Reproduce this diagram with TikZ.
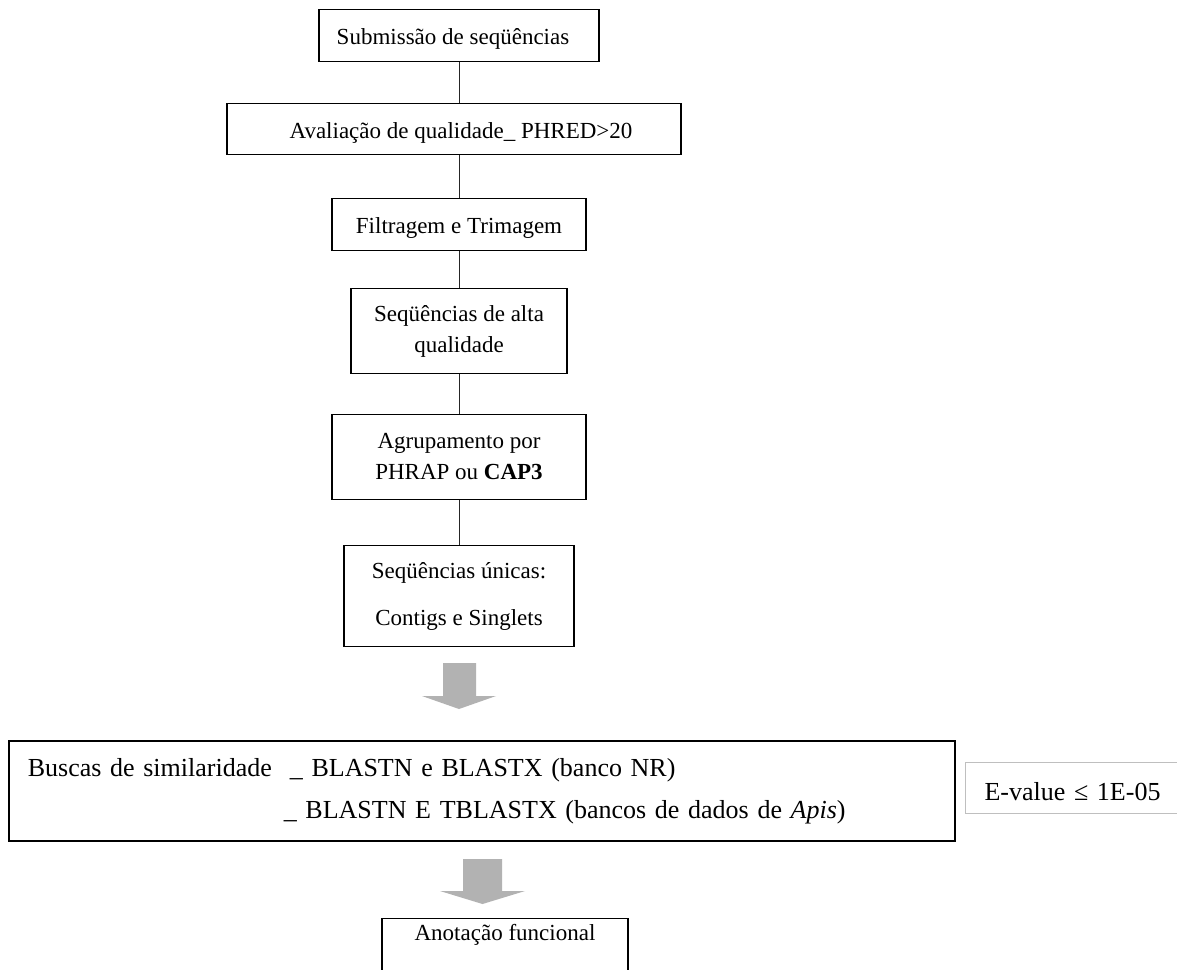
\documentclass[tikz,border=0pt]{standalone}
\usepackage{fontspec}
\setmainfont{Liberation Serif}
\begin{document}
\begin{tikzpicture}[x=1pt,y=-1pt,
  box/.style={draw, line width=1.3pt, inner xsep=0pt, inner ysep=0pt, align=center,
              font=\fontsize{23}{31}\selectfont},
  conn/.style={line width=1pt, draw=black!85},
  bigarrow/.style={fill=black!30, draw=none}]
\useasboundingbox (0,0) rectangle (1177,969);
\clip (0,0) rectangle (1177,969);
\fill[white] (0,0) rectangle (1177,969);

% flowchart boxes
\node[box, anchor=north, minimum width=280pt, text height=35pt, text depth=17pt] (b1) at (459,9)
  {Submissão de seqüências\hspace*{12pt}};
\node[box, anchor=north, minimum width=454pt, text height=35pt, text depth=16pt] (b2) at (454,103)
  {\hspace*{14pt}Avaliação de qualidade\_ PHRED>20};
\node[box, anchor=north, minimum width=254pt, text height=35pt, text depth=17pt] (b3) at (459,198)
  {Filtragem e Trimagem};
\node[box, minimum width=216pt, minimum height=85pt] (b4) at (459,331)
  {Seqüências de alta\\qualidade};
\node[box, minimum width=254pt, minimum height=85pt] (b5) at (459,457)
  {Agrupamento por\\PHRAP ou \textbf{CAP3}};
\node[box, minimum width=230pt, minimum height=101pt, font=\fontsize{23}{47}\selectfont] (b6) at (459,596)
  {Seqüências únicas:\\Contigs e Singlets};

% search box
\node[draw, line width=1.6pt, anchor=north west, inner xsep=19pt, inner ysep=0pt,
      minimum height=100pt, text width=908pt, align=left,
      font=\fontsize{26}{42}\selectfont] (big) at (8,740)
  {Buscas de similaridade\hspace{18pt}\_ BLASTN e BLASTX (banco NR)\\
   \hspace*{256pt}\_ BLASTN E TBLASTX (bancos de dados de \textit{Apis})};

\node[draw=black!25, line width=1pt, anchor=north west, inner xsep=19pt, inner ysep=0pt,
      text width=192pt, align=left, text height=38pt, text depth=13pt,
      font=\fontsize{26}{30}\selectfont] (ev) at (965,762)
  {E-value ≤ 1E-05};

\node[box, anchor=north, minimum width=246pt, text height=22pt, text depth=40pt] (anot) at (505,918)
  {Anotação funcional};

% connectors
\coordinate (cx) at (459,0);
\draw[conn] (b1.south -| cx) -- (b2.north -| cx);
\draw[conn] (b2.south -| cx) -- (b3.north -| cx);
\draw[conn] (b3.south -| cx) -- (b4.north -| cx);
\draw[conn] (b4.south -| cx) -- (b5.north -| cx);
\draw[conn] (b5.south -| cx) -- (b6.north -| cx);

% block arrows
\fill[bigarrow] (443,663) -- (476,663) -- (476,696) -- (496,696) -- (459,709)
  -- (422,696) -- (443,696) -- cycle;
\fill[bigarrow] (463,859) -- (502,859) -- (502,891) -- (525,891) -- (482.5,904)
  -- (440,891) -- (463,891) -- cycle;
\end{tikzpicture}
\end{document}
